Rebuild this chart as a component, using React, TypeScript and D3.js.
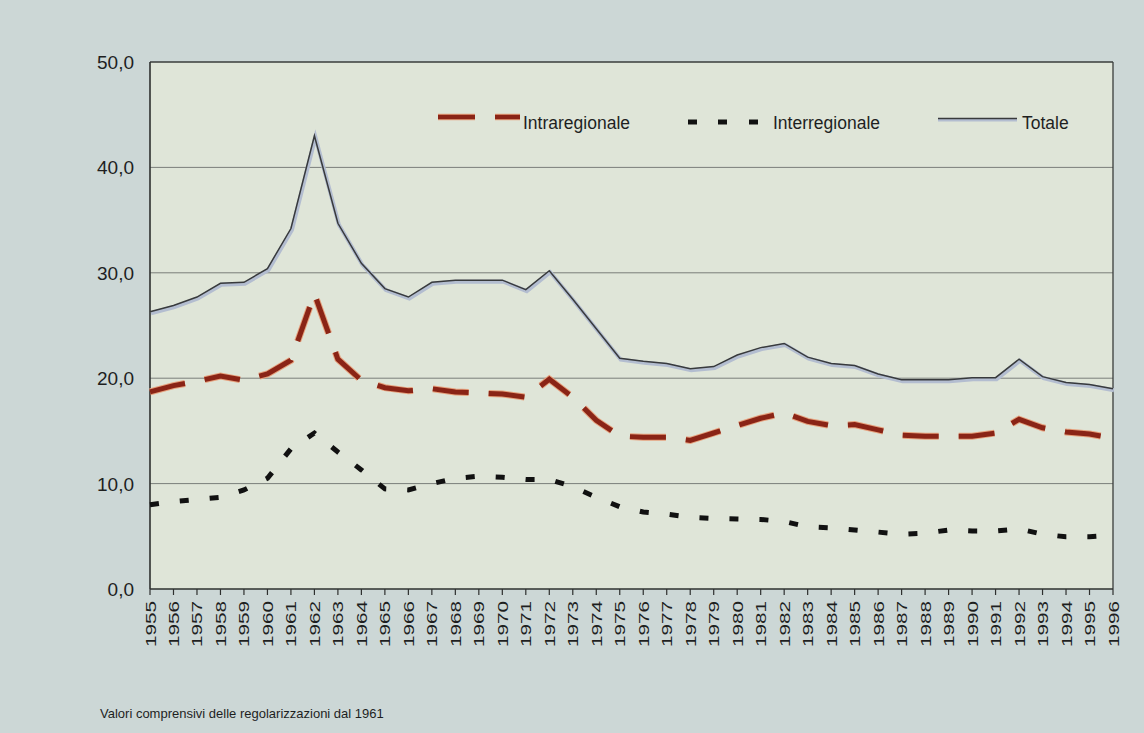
import React from "react";
import * as d3 from "d3";

const years: number[] = [
  1955, 1956, 1957, 1958, 1959, 1960, 1961, 1962, 1963, 1964, 1965, 1966, 1967, 1968,
  1969, 1970, 1971, 1972, 1973, 1974, 1975, 1976, 1977, 1978, 1979, 1980, 1981, 1982,
  1983, 1984, 1985, 1986, 1987, 1988, 1989, 1990, 1991, 1992, 1993, 1994, 1995, 1996,
];

const totale: number[] = [
  26.3, 26.9, 27.7, 29.0, 29.1, 30.4, 34.2, 43.0, 34.7, 30.9, 28.5, 27.7, 29.1, 29.3,
  29.3, 29.3, 28.4, 30.2, 27.5, 24.7, 21.9, 21.6, 21.4, 20.9, 21.1, 22.2, 22.9, 23.3,
  22.0, 21.4, 21.2, 20.4, 19.85, 19.85, 19.85, 20.05, 20.05, 21.8, 20.15, 19.6, 19.4, 19.0,
];

const intraregionale: number[] = [
  18.7, 19.3, 19.7, 20.2, 19.8, 20.4, 21.7, 28.0, 21.8, 19.8, 19.1, 18.8, 19.0, 18.7,
  18.6, 18.5, 18.2, 19.9, 18.2, 16.0, 14.5, 14.4, 14.4, 14.1, 14.8, 15.5, 16.2, 16.7,
  15.9, 15.5, 15.6, 15.1, 14.6, 14.5, 14.5, 14.5, 14.8, 16.1, 15.3, 14.9, 14.7, 14.3,
];

const interregionale: number[] = [
  8.0, 8.3, 8.5, 8.7, 9.4, 10.5, 13.3, 14.8, 13.0, 11.3, 9.5, 9.4, 10.0, 10.5,
  10.7, 10.6, 10.4, 10.4, 9.7, 8.7, 7.8, 7.3, 7.1, 6.8, 6.7, 6.65, 6.6, 6.4,
  5.9, 5.8, 5.6, 5.4, 5.2, 5.3, 5.6, 5.5, 5.5, 5.7, 5.2, 4.95, 4.95, 5.1,
];

const yTicks: number[] = [0, 10, 20, 30, 40, 50];
const footnote = "Valori comprensivi delle regolarizzazioni dal 1961";

const W = 1144;
const H = 733;
const left = 150;
const right = 1113;
const top = 62;
const bottom = 589;

export default function App() {
  const x = d3.scaleLinear().domain([years[0], years[years.length - 1]]).range([left, right]);
  const y = d3.scaleLinear().domain([0, 50]).range([bottom, top]);
  const fmt = (v: number) => v.toFixed(1).replace(".", ",");

  const mk = (vals: number[]) =>
    d3
      .line<number>()
      .x((_, i) => x(years[i]))
      .y((d) => y(d))(vals) as string;

  const font = "'Liberation Sans', Arial, sans-serif";
  const red = "#8a2416";
  const redEdge = "#e6a07c";
  const ink = "#1e1f1f";

  return (
    <div style={{ position: "absolute", left: 0, top: 0 }}>
      <svg width={W} height={H} style={{ display: "block" }}>
        <rect x={0} y={0} width={W} height={H} fill="#ccd7d6" />
        <rect x={left} y={top} width={right - left} height={bottom - top} fill="#dfe5d8" />
        {yTicks
          .filter((t) => t > 0 && t < 50)
          .map((t) => (
            <line key={t} x1={left} x2={right} y1={y(t)} y2={y(t)} stroke="#7a7e7a" strokeWidth={1} />
          ))}
        {/* border */}
        <line x1={left} x2={right} y1={top} y2={top} stroke="#3a3d3b" strokeWidth={1.3} />
        <line x1={right} x2={right} y1={top} y2={bottom} stroke="#3a3d3b" strokeWidth={1.3} />
        <line x1={left} x2={left} y1={top} y2={bottom} stroke="#2e302f" strokeWidth={1.6} />
        <line x1={left} x2={right} y1={bottom} y2={bottom} stroke="#2e302f" strokeWidth={1.6} />
        {/* y labels */}
        {yTicks.map((t) => (
          <text key={t} x={134} y={y(t) + 7} textAnchor="end" fontFamily={font} fontSize={19} fill={ink}>
            {fmt(t)}
          </text>
        ))}
        {/* x ticks and labels */}
        {years.map((yr) => (
          <g key={yr}>
            <line x1={x(yr)} x2={x(yr)} y1={bottom} y2={bottom + 6} stroke="#2e302f" strokeWidth={1.2} />
            <text
              transform={`translate(${x(yr) + 5.5},${bottom + 12}) rotate(-90)`}
              textAnchor="end"
              fontFamily={font}
              fontSize={15}
              textLength={46}
              lengthAdjust="spacingAndGlyphs"
              fill={ink}
            >
              {yr}
            </text>
          </g>
        ))}
        {/* Totale */}
        <path d={mk(totale)} fill="none" stroke="#b3bdd0" strokeWidth={4} transform="translate(1,1.5)" />
        <path d={mk(totale)} fill="none" stroke="#383a3c" strokeWidth={1.5} />
        {/* Intraregionale */}
        <path d={mk(intraregionale)} fill="none" stroke={redEdge} strokeWidth={7} strokeDasharray="36 20" />
        <path d={mk(intraregionale)} fill="none" stroke={red} strokeWidth={5} strokeDasharray="36 20" />
        {/* Interregionale */}
        <path d={mk(interregionale)} fill="none" stroke="#111" strokeWidth={5} strokeDasharray="9 21" />
        {/* legend */}
        <line x1={438} x2={475} y1={117} y2={117} stroke={redEdge} strokeWidth={6.5} />
        <line x1={438} x2={475} y1={117} y2={117} stroke={red} strokeWidth={4.5} />
        <line x1={495} x2={520} y1={117} y2={117} stroke={redEdge} strokeWidth={6.5} />
        <line x1={495} x2={520} y1={117} y2={117} stroke={red} strokeWidth={4.5} />
        <text x={523} y={129} fontFamily={font} fontSize={17.5} fill={ink}>Intraregionale</text>
        {[688, 718, 749].map((lx) => (
          <line key={lx} x1={lx} x2={lx + 9} y1={122} y2={122} stroke="#111" strokeWidth={5} />
        ))}
        <text x={773} y={129} fontFamily={font} fontSize={17.5} fill={ink}>Interregionale</text>
        <line x1={938} x2={1017} y1={120} y2={120} stroke="#b3bdd0" strokeWidth={3} />
        <line x1={938} x2={1017} y1={118.5} y2={118.5} stroke="#383a3c" strokeWidth={1.3} />
        <text x={1022} y={129} fontFamily={font} fontSize={17.5} fill={ink}>Totale</text>
        {/* footnote */}
        <text x={100} y={718} fontFamily={font} fontSize={13} fill={ink}>{footnote}</text>
      </svg>
    </div>
  );
}
